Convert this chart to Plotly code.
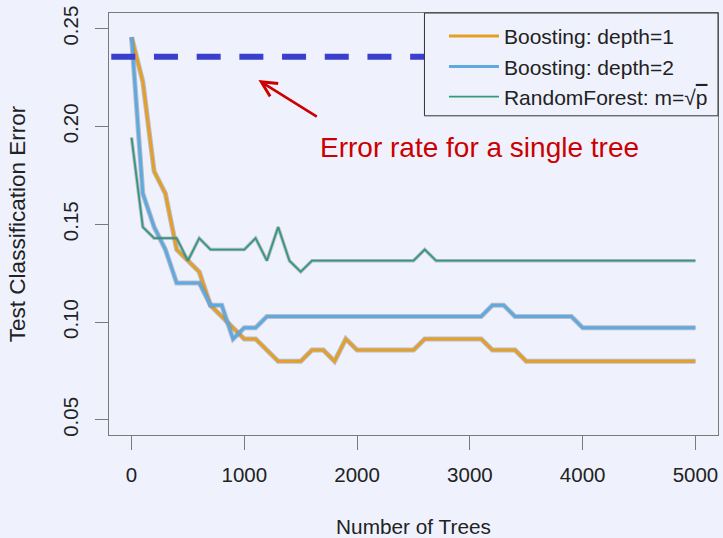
import plotly.graph_objects as go

# ---------------- data ----------------
trees = [0, 100, 200, 300, 400, 500, 600, 700, 800, 900,
         1000, 1100, 1200, 1300, 1400, 1500, 1600, 1700, 1800, 1900,
         2000, 2100, 2200, 2300, 2400, 2500, 2600, 2700, 2800, 2900,
         3000, 3100, 3200, 3300, 3400, 3500, 3600, 3700, 3800, 3900,
         4000, 4100, 4200, 4300, 4400, 4500, 4600, 4700, 4800, 4900, 5000]

boost_depth1 = [0.2457, 0.2229, 0.1771, 0.1657, 0.1371, 0.1314, 0.1257, 0.1086, 0.1029, 0.0971,
                0.0914, 0.0914, 0.0857, 0.0800, 0.0800, 0.0800, 0.0857, 0.0857, 0.0800, 0.0914,
                0.0857, 0.0857, 0.0857, 0.0857, 0.0857, 0.0857, 0.0914, 0.0914, 0.0914, 0.0914,
                0.0914, 0.0914, 0.0857, 0.0857, 0.0857, 0.0800, 0.0800, 0.0800, 0.0800, 0.0800,
                0.0800, 0.0800, 0.0800, 0.0800, 0.0800, 0.0800, 0.0800, 0.0800, 0.0800, 0.0800, 0.0800]

boost_depth2 = [0.2457, 0.1657, 0.1486, 0.1371, 0.1200, 0.1200, 0.1200, 0.1086, 0.1086, 0.0914,
                0.0971, 0.0971, 0.1029, 0.1029, 0.1029, 0.1029, 0.1029, 0.1029, 0.1029, 0.1029,
                0.1029, 0.1029, 0.1029, 0.1029, 0.1029, 0.1029, 0.1029, 0.1029, 0.1029, 0.1029,
                0.1029, 0.1029, 0.1086, 0.1086, 0.1029, 0.1029, 0.1029, 0.1029, 0.1029, 0.1029,
                0.0971, 0.0971, 0.0971, 0.0971, 0.0971, 0.0971, 0.0971, 0.0971, 0.0971, 0.0971, 0.0971]

random_forest = [0.1943, 0.1486, 0.1429, 0.1429, 0.1429, 0.1314, 0.1429, 0.1371, 0.1371, 0.1371,
                 0.1371, 0.1429, 0.1314, 0.1486, 0.1314, 0.1257, 0.1314, 0.1314, 0.1314, 0.1314,
                 0.1314, 0.1314, 0.1314, 0.1314, 0.1314, 0.1314, 0.1371, 0.1314, 0.1314, 0.1314,
                 0.1314, 0.1314, 0.1314, 0.1314, 0.1314, 0.1314, 0.1314, 0.1314, 0.1314, 0.1314,
                 0.1314, 0.1314, 0.1314, 0.1314, 0.1314, 0.1314, 0.1314, 0.1314, 0.1314, 0.1314, 0.1314]

single_tree_error = 0.2357

series_names = ["Boosting: depth=1", "Boosting: depth=2",
                'RandomForest: m=√<span style="text-decoration:overline">p</span>']

x_ticks = [0, 1000, 2000, 3000, 4000, 5000]
y_ticks = [0.05, 0.10, 0.15, 0.20, 0.25]
y_tick_labels = ["0.05", "0.10", "0.15", "0.20", "0.25"]

annotation_text = "Error rate for a single tree"

# ---------------- styling ----------------
BG = "#eff2fd"
AXIS = "#7a7a7a"
TXT = "#222222"
FONT = "Liberation Sans, Arial, sans-serif"
HALO = "rgba(120,120,140,0.45)"

colors = ["#e3a025", "#5eaadf", "#32997a"]
core_w = [3.0, 3.0, 1.8]
halo_w = [5.0, 5.0, 3.6]

fig = go.Figure()

for vals, name, c, cw, hw in zip([boost_depth1, boost_depth2, random_forest],
                                 series_names, colors, core_w, halo_w):
    fig.add_trace(go.Scatter(x=trees, y=vals, mode="lines",
                             line=dict(color=HALO, width=hw),
                             showlegend=False, hoverinfo="skip"))
    fig.add_trace(go.Scatter(x=trees, y=vals, mode="lines", name=name,
                             line=dict(color=c, width=cw)))

# single-tree reference line
fig.add_shape(type="line", xref="x", yref="y", x0=-180, x1=5200,
              y0=single_tree_error, y1=single_tree_error,
              line=dict(color="#3a3fce", width=6, dash="24px,18.7px"), layer="above")

# legend box (opaque, covers reference line)
fig.add_shape(type="rect", xref="paper", yref="paper", x0=0.518, x1=1.0, y0=0.7564, y1=1.0,
              fillcolor=BG, line=dict(color="#333333", width=1), layer="above")

# arrow and label
fig.add_annotation(x=1125, y=0.2237, ax=1656, ay=0.2046, xref="x", yref="y",
                   axref="x", ayref="y", text="", showarrow=True,
                   arrowhead=5, arrowsize=1.15, arrowwidth=2.6, arrowcolor="#cc0000",
                   standoff=0, startstandoff=0)
fig.add_annotation(x=3086, y=0.189, xref="x", yref="y", text=annotation_text,
                   showarrow=False, font=dict(family=FONT, size=28, color="#cc0000"),
                   xanchor="center", yanchor="middle")

fig.update_layout(
    width=723, height=538,
    margin=dict(l=109, r=4, t=13, b=101),
    paper_bgcolor=BG, plot_bgcolor=BG,
    font=dict(family=FONT, size=20.5, color=TXT),
    showlegend=True,
    legend=dict(x=0.55, xanchor="left", y=0.993, yanchor="top",
                bgcolor="rgba(0,0,0,0)", borderwidth=0, itemwidth=50,
                font=dict(family=FONT, size=21, color=TXT),
                tracegroupgap=0),
)

fig.update_xaxes(range=[-200, 5200], tickvals=x_ticks, ticktext=[str(v) for v in x_ticks],
                 showgrid=False, zeroline=False, showline=True, mirror=True,
                 linecolor=AXIS, linewidth=1.3, ticks="outside", ticklen=14,
                 tickcolor=AXIS, tickwidth=1.3, ticklabelstandoff=7,
                 title=dict(text="Number of Trees", standoff=34,
                            font=dict(family=FONT, size=20.8, color=TXT)))
fig.update_yaxes(range=[0.0423, 0.258], tickvals=y_ticks, ticktext=y_tick_labels,
                 tickangle=-90,
                 showgrid=False, zeroline=False, showline=True, mirror=True,
                 linecolor=AXIS, linewidth=1.3, ticks="outside", ticklen=13,
                 tickcolor=AXIS, tickwidth=1.3, ticklabelstandoff=9,
                 title=dict(text="Test Classification Error", standoff=26,
                            font=dict(family=FONT, size=22.5, color=TXT)))

fig.write_html("out.html")
